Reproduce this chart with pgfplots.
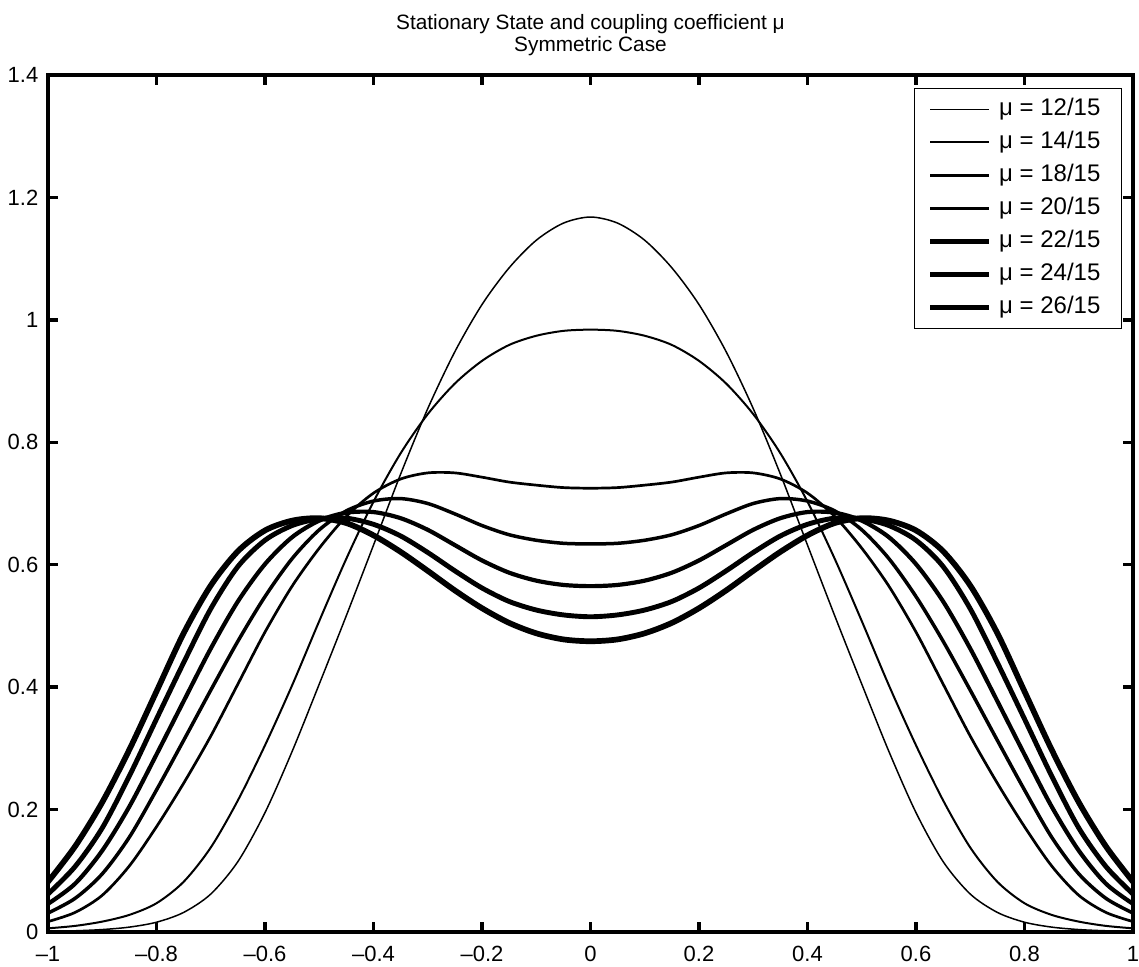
\documentclass[border=0pt]{standalone}
\usepackage{fontspec}
\setmainfont{Liberation Sans}
\usepackage{pgfplots}
\pgfplotsset{compat=1.18}
\usepackage{pgfplotstable}
\usetikzlibrary{calc}

% stationary states, one column per coupling coefficient mu
\pgfplotstableread{
x     m12   m14   m18   m20   m22   m24   m26
-1.00 0.001 0.006 0.017 0.031 0.046 0.062 0.082
-0.95 0.002 0.010 0.032 0.055 0.079 0.107 0.140
-0.90 0.004 0.017 0.060 0.095 0.133 0.170 0.212
-0.85 0.008 0.028 0.108 0.155 0.205 0.255 0.298
-0.80 0.016 0.047 0.172 0.232 0.290 0.348 0.393
-0.75 0.032 0.082 0.243 0.313 0.377 0.440 0.488
-0.70 0.062 0.138 0.320 0.395 0.463 0.528 0.566
-0.65 0.115 0.215 0.405 0.475 0.540 0.597 0.622
-0.60 0.195 0.305 0.490 0.548 0.601 0.640 0.656
-0.55 0.295 0.403 0.565 0.610 0.645 0.664 0.672
-0.50 0.405 0.508 0.627 0.657 0.672 0.675 0.676
-0.45 0.517 0.610 0.679 0.688 0.685 0.676 0.668
-0.40 0.632 0.703 0.717 0.704 0.686 0.666 0.648
-0.35 0.748 0.782 0.740 0.708 0.676 0.647 0.621
-0.30 0.855 0.846 0.750 0.700 0.657 0.620 0.590
-0.25 0.948 0.896 0.750 0.683 0.632 0.590 0.558
-0.20 1.025 0.933 0.743 0.664 0.607 0.562 0.529
-0.15 1.085 0.959 0.735 0.649 0.587 0.540 0.505
-0.10 1.130 0.974 0.730 0.640 0.574 0.526 0.488
-0.05 1.158 0.982 0.726 0.635 0.567 0.518 0.478
 0.00 1.168 0.984 0.725 0.634 0.565 0.515 0.475
 0.05 1.158 0.982 0.726 0.635 0.567 0.518 0.478
 0.10 1.130 0.974 0.730 0.640 0.574 0.526 0.488
 0.15 1.085 0.959 0.735 0.649 0.587 0.540 0.505
 0.20 1.025 0.933 0.743 0.664 0.607 0.562 0.529
 0.25 0.948 0.896 0.750 0.683 0.632 0.590 0.558
 0.30 0.855 0.846 0.750 0.700 0.657 0.620 0.590
 0.35 0.748 0.782 0.740 0.708 0.676 0.647 0.621
 0.40 0.632 0.703 0.717 0.704 0.686 0.666 0.648
 0.45 0.517 0.610 0.679 0.688 0.685 0.676 0.668
 0.50 0.405 0.508 0.627 0.657 0.672 0.675 0.676
 0.55 0.295 0.403 0.565 0.610 0.645 0.664 0.672
 0.60 0.195 0.305 0.490 0.548 0.601 0.640 0.656
 0.65 0.115 0.215 0.405 0.475 0.540 0.597 0.622
 0.70 0.062 0.138 0.320 0.395 0.463 0.528 0.566
 0.75 0.032 0.082 0.243 0.313 0.377 0.440 0.488
 0.80 0.016 0.047 0.172 0.232 0.290 0.348 0.393
 0.85 0.008 0.028 0.108 0.155 0.205 0.255 0.298
 0.90 0.004 0.017 0.060 0.095 0.133 0.170 0.212
 0.95 0.002 0.010 0.032 0.055 0.079 0.107 0.140
 1.00 0.001 0.006 0.017 0.031 0.046 0.062 0.082
}\states

\begin{document}
\begin{tikzpicture}
\begin{axis}[
    width=542.5pt, height=428.5pt, scale only axis,
    xmin=-1, xmax=1, ymin=0, ymax=1.4,
    xtick={-1,-0.8,-0.6,-0.4,-0.2,0,0.2,0.4,0.6,0.8,1},
    xticklabels={–1,–0.8,–0.6,–0.4,–0.2,0,0.2,0.4,0.6,0.8,1},
    ytick={0,0.2,0.4,0.6,0.8,1,1.2,1.4},
    yticklabels={0,0.2,0.4,0.6,0.8,1,1.2,1.4},
    tick align=inside,
    major tick length=5pt,
    major tick style={black, line width=1.7pt},
    axis line style={line width=2pt, line join=miter},
    ticklabel style={font=\fontsize{11}{13}\selectfont},
    xticklabel style={yshift=-3.6pt},
    yticklabel style={xshift=-1.3pt},
    title={Stationary State and coupling coefficient μ\\Symmetric Case},
    title style={align=center, font=\fontsize{10.4}{11}\selectfont,
        at={(axis description cs:0.5,1)}, anchor=south, inner sep=0pt, yshift=3.3pt},
    legend cell align=left,
    legend image code/.code={\draw[#1] (0pt,0pt) -- (29.5pt,0pt);},
    legend style={at={(axis description cs:1,1)}, anchor=north east,
        xshift=-5.5pt, yshift=-6.5pt, draw=black, line width=0.6pt,
        inner xsep=6.5pt, inner ysep=5pt, row sep=5.7pt, column sep=3.5pt,
        font=\fontsize{12}{13}\selectfont,
        nodes={inner sep=0pt, text height=8.4pt, text depth=2.4pt}},
    every axis plot/.append style={black, smooth, line join=round},
]
\addplot[line width=0.75pt] table[x=x, y=m12] {\states};
\addplot[line width=1.0pt]  table[x=x, y=m14] {\states};
\addplot[line width=1.35pt] table[x=x, y=m18] {\states};
\addplot[line width=1.75pt] table[x=x, y=m20] {\states};
\addplot[line width=2.1pt]  table[x=x, y=m22] {\states};
\addplot[line width=2.45pt] table[x=x, y=m24] {\states};
\addplot[line width=2.85pt] table[x=x, y=m26] {\states};
\legend{μ = 12/15\hspace*{4pt}, μ = 14/15, μ = 18/15, μ = 20/15,
    μ = 22/15, μ = 24/15, μ = 26/15}
\coordinate (ll) at (rel axis cs:0,0);
\coordinate (ur) at (rel axis cs:1,1);
\end{axis}
\pgfresetboundingbox
\path ($(ll)+(-24pt,-17pt)$) rectangle ($(ur)+(3pt,37.5pt)$);
\end{tikzpicture}
\end{document}
